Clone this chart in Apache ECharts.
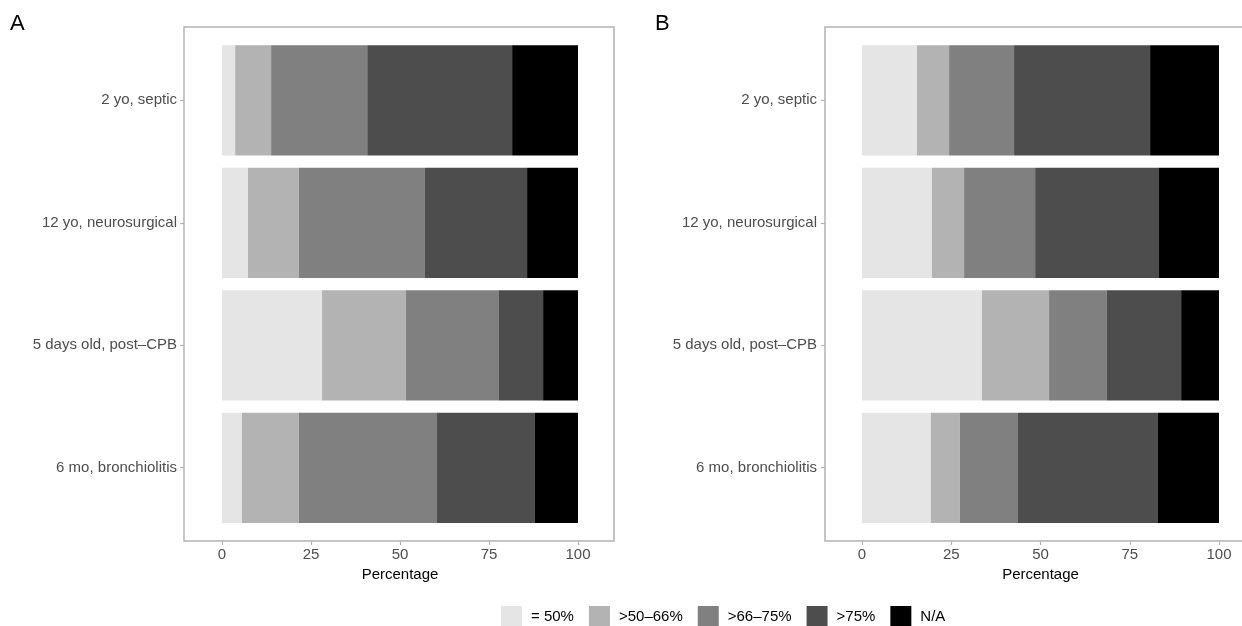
<!DOCTYPE html>
<html>
<head>
<meta charset="utf-8">
<script src="https://cdn.jsdelivr.net/npm/echarts@6/dist/echarts.min.js"></script>
<style>html,body{margin:0;padding:0;background:#fff}#c{width:1242px;height:626px}</style>
</head>
<body>
<div id="c"></div>
<script>
var categories = ['2 yo, septic', '12 yo, neurosurgical', '5 days old, post\u2013CPB', '6 mo, bronchiolitis'];
var legendNames = ['= 50%', '>50\u201366%', '>66\u201375%', '>75%', 'N/A'];
var colors = ['#e5e5e5', '#b3b3b3', '#808080', '#4d4d4d', '#000000'];
var xTicks = [0, 25, 50, 75, 100];

// Panel A
var le50A   = [3.7, 7.3, 28.1, 5.6];
var p5066A  = [10.1, 14.3, 23.6, 16.0];
var p6675A  = [27.0, 35.4, 26.1, 38.8];
var gt75A   = [40.7, 28.7, 12.4, 27.5];
var naA     = [18.5, 14.3, 9.8, 12.1];
// Panel B
var le50B   = [15.4, 19.6, 33.6, 19.3];
var p5066B  = [9.0, 9.0, 18.8, 8.1];
var p6675B  = [18.2, 19.9, 16.2, 16.3];
var gt75B   = [38.1, 34.7, 20.8, 39.2];
var naB     = [19.3, 16.8, 10.6, 17.1];

var panelA = [le50A, p5066A, p6675A, gt75A, naA];
var panelB = [le50B, p5066B, p6675B, gt75B, naB];

var FONT = 'Liberation Sans, Arial, Helvetica, sans-serif';
var BORDER = '#b3b3b3';
var catIdx = categories.map(function (c, i) { return i; });

// frame axes: expanded ranges (ggplot-like padding) used for ticks only
function frameX(gi, mn, mx) {
  return {
    type: 'value', gridIndex: gi, min: mn, max: mx, position: 'bottom',
    axisLine: {show: false, onZero: false},
    axisTick: {show: true, length: 4, customValues: xTicks, lineStyle: {color: BORDER, width: 1.2}},
    axisLabel: {show: false},
    splitLine: {show: false}
  };
}
function frameY(gi) {
  return {
    type: 'value', gridIndex: gi, min: -0.6, max: categories.length - 0.4, inverse: true, position: 'left',
    axisLine: {show: false, onZero: false},
    axisTick: {show: true, length: 4, customValues: catIdx, lineStyle: {color: BORDER, width: 1.2}},
    axisLabel: {show: false},
    splitLine: {show: false}
  };
}
function barX(gi) {
  return {
    type: 'value', gridIndex: gi, min: 0, max: 100, interval: 25, position: 'bottom',
    offset: 12,
    axisLine: {show: false, onZero: false},
    axisTick: {show: false},
    splitLine: {show: false},
    axisLabel: {show: true, margin: 6, color: '#4d4d4d', fontSize: 15, fontFamily: FONT},
    name: 'Percentage', nameLocation: 'middle', nameGap: 26,
    nameTextStyle: {color: '#000', fontSize: 15, fontFamily: FONT}
  };
}
function barY(gi) {
  return {
    type: 'category', gridIndex: gi, data: categories, inverse: true, position: 'left',
    offset: 38,
    axisLine: {show: false, onZero: false},
    axisTick: {show: false},
    axisLabel: {margin: 7, color: '#4d4d4d', fontSize: 15, fontFamily: FONT},
    splitLine: {show: false}
  };
}

var series = [];
[panelA, panelB].forEach(function (panel, p) {
  panel.forEach(function (vals, i) {
    series.push({
      type: 'bar', name: legendNames[i], stack: 'p' + p,
      xAxisIndex: p === 0 ? 1 : 3, yAxisIndex: p === 0 ? 1 : 3,
      data: vals, barWidth: '90%',
      itemStyle: {color: colors[i]},
      emphasis: {disabled: true},
      animation: false
    });
  });
});

var gridBase = {containLabel: false, outerBoundsMode: 'none'};
function g(o) { return Object.assign({}, gridBase, o); }

var option = {
  animation: false,
  backgroundColor: '#fff',
  title: [
    {text: 'A', left: 10, top: 13, padding: 0, textStyle: {fontSize: 22, fontWeight: 'normal', color: '#000', fontFamily: FONT}},
    {text: 'B', left: 655, top: 13, padding: 0, textStyle: {fontSize: 22, fontWeight: 'normal', color: '#000', fontFamily: FONT}}
  ],
  grid: [
    g({left: 184, top: 27, width: 430, height: 514, show: true, borderColor: BORDER, borderWidth: 1.5, backgroundColor: 'transparent'}),
    g({left: 222, top: 39, width: 356, height: 490}),
    g({left: 825, top: 27, width: 430, height: 514, show: true, borderColor: BORDER, borderWidth: 1.5, backgroundColor: 'transparent'}),
    g({left: 862, top: 39, width: 357, height: 490})
  ],
  xAxis: [frameX(0, -10.674, 110.11), barX(1), frameX(2, -10.364, 110.08), barX(3)],
  yAxis: [frameY(0), barY(1), frameY(2), barY(3)],
  legend: {
    data: legendNames, left: 501, top: 606, padding: 0,
    itemWidth: 21, itemHeight: 21, itemGap: 15,
    icon: 'rect', selectedMode: false,
    textStyle: {fontSize: 15, color: '#000', fontFamily: FONT, padding: [0, 0, 0, 4]}
  },
  series: series
};

var chart = echarts.init(document.getElementById('c'), null, {renderer: 'canvas'});
chart.setOption(option);
</script>
</body>
</html>
